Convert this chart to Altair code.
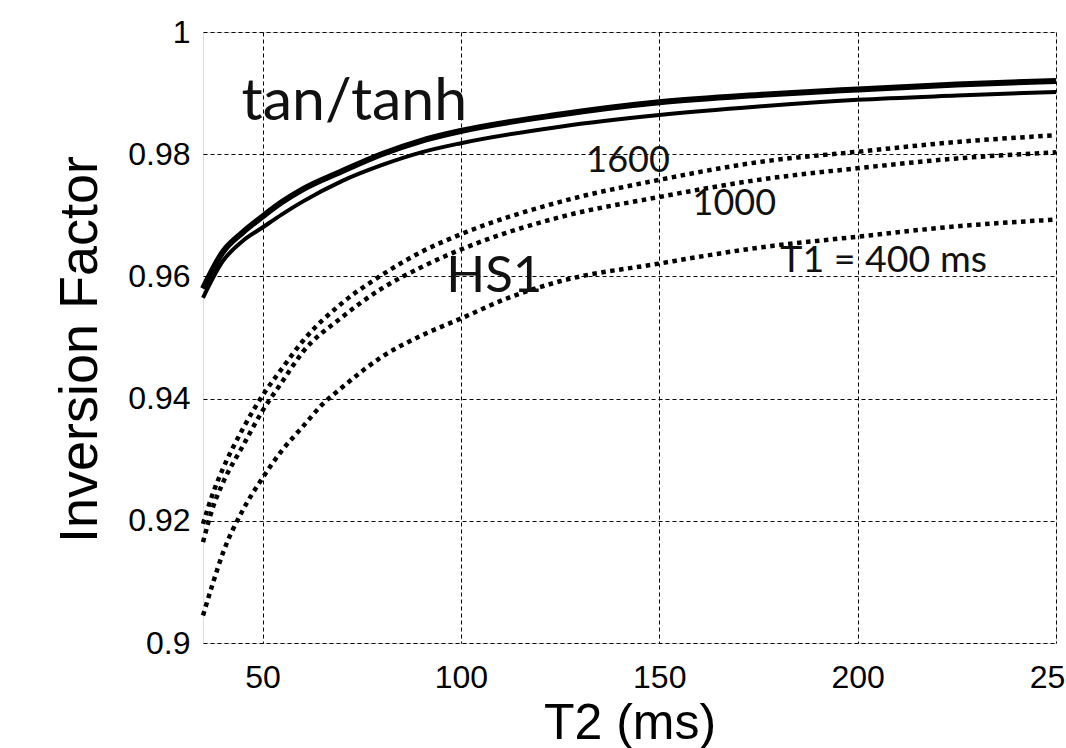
import altair as alt
import pandas as pd

# ---- data ----
t2_tan = [35, 40, 45, 50, 55, 60, 70, 80, 90, 100, 125, 150, 175, 200, 225, 250]
tan_upper = [0.9580, 0.9640, 0.9672, 0.9698, 0.9722, 0.9742, 0.9772, 0.9800, 0.9822,
             0.9838, 0.9865, 0.9885, 0.9897, 0.9906, 0.9914, 0.9920]
tan_lower = [0.9565, 0.9625, 0.9658, 0.9680, 0.9702, 0.9722, 0.9756, 0.9782, 0.9803,
             0.9818, 0.9845, 0.9864, 0.9878, 0.9889, 0.9896, 0.9902]

t2_hs = [35, 37.5, 40, 45, 50, 55, 60, 70, 80, 90, 100, 125, 150, 175, 200, 225, 250]
hs1_1600 = [0.9195, 0.9245, 0.9285, 0.9350, 0.9405, 0.9450, 0.9493, 0.9556, 0.9602,
            0.9640, 0.9669, 0.9722, 0.9758, 0.9787, 0.9804, 0.9820, 0.9831]
hs1_1000 = [0.9165, 0.9222, 0.9262, 0.9322, 0.9380, 0.9428, 0.9475, 0.9533, 0.9580,
            0.9615, 0.9644, 0.9697, 0.9730, 0.9758, 0.9777, 0.9793, 0.9803]

t2_hs400 = [35, 37.5, 40, 45, 50, 55, 60, 65, 70, 80, 90, 100, 112, 125, 150, 175, 200, 225, 250]
hs1_400 = [0.9045, 0.9098, 0.9147, 0.9217, 0.9270, 0.9316, 0.9353, 0.9390, 0.9418, 0.9468,
           0.9503, 0.9531, 0.9565, 0.9592, 0.9621, 0.9647, 0.9665, 0.9682, 0.9693]

x_ticks = [50, 100, 150, 200, 250]
y_ticks = [0.9, 0.92, 0.94, 0.96, 0.98, 1.0]

ann_text = ["tan/tanh", "HS1", "1600", "1000", "T1 = 400 ms"]
ann_x = [44.7, 96.3, 131.6, 158.4, 180.5]
ann_y = [0.9856, 0.9575, 0.9771, 0.9700, 0.9608]
ann_size = [59, 51, 36, 36, 37.5]

# ---- tables ----
df_up = pd.DataFrame({"t2": t2_tan, "f": tan_upper, "s": "tan_upper"})
df_lo = pd.DataFrame({"t2": t2_tan, "f": tan_lower, "s": "tan_lower"})
df_hs = pd.concat([
    pd.DataFrame({"t2": t2_hs, "f": hs1_1600, "s": "1600"}),
    pd.DataFrame({"t2": t2_hs, "f": hs1_1000, "s": "1000"}),
    pd.DataFrame({"t2": t2_hs400, "f": hs1_400, "s": "400"}),
])
df_ann = pd.DataFrame({"t2": ann_x, "f": ann_y, "txt": ann_text, "size": ann_size})

x_scale = alt.Scale(domain=[35, 250], nice=False, zero=False)
y_scale = alt.Scale(domain=[0.9, 1.0], nice=False, zero=False)

x_enc = alt.X("t2:Q", scale=x_scale, axis=alt.Axis(
    title="T2 (ms)", values=x_ticks, format="d", labelFlush=False,
    labelFont="Liberation Sans", labelFontSize=32, labelColor="black", labelPadding=19,
    titleFont="Liberation Sans", titleFontSize=50, titleFontWeight="normal", titleColor="black",
    titleBaseline="alphabetic", titleY=95,
    ticks=False, domain=False,
    grid=True, gridColor="black", gridDash=[4, 3], gridWidth=1, gridOpacity=1))
y_enc = alt.Y("f:Q", scale=y_scale, axis=alt.Axis(
    title="Inversion Factor", values=y_ticks, format="~g", labelFlush=False,
    labelFont="Liberation Sans", labelFontSize=32, labelColor="black", labelPadding=13,
    titleFont="Liberation Sans", titleFontSize=54, titleFontWeight="normal", titleColor="black",
    titleAngle=270, titleBaseline="alphabetic", titleX=-107, titleY=317, titleAlign="center",
    ticks=False, domain=False,
    grid=True, gridColor="black", gridDash=[4, 3], gridWidth=1, gridOpacity=1))

up = alt.Chart(df_up).mark_line(color="black", strokeWidth=6, interpolate="monotone").encode(
    x=x_enc, y=y_enc)
lo = alt.Chart(df_lo).mark_line(color="black", strokeWidth=4, interpolate="monotone").encode(
    x="t2:Q", y="f:Q")
hs = alt.Chart(df_hs).mark_line(color="black", strokeWidth=4.5, strokeDash=[4.5, 4.5],
                                interpolate="monotone").encode(
    x="t2:Q", y="f:Q", detail="s:N")
ann = alt.Chart(df_ann).mark_text(align="left", baseline="alphabetic", font="Lato",
                                  color="#111").encode(
    x="t2:Q", y="f:Q", text="txt:N", size=alt.Size("size:Q", scale=None, legend=None))

chart = alt.layer(up, lo, hs, ann).properties(
    width=853, height=611,
    autosize=alt.AutoSizeParams(type="none"),
    padding={"left": 203, "top": 32, "right": 10, "bottom": 105},
).configure_view(stroke="#333", strokeWidth=1.5).configure(background="white")

chart.save("out.html", embed_options={"renderer": "svg", "actions": False})
